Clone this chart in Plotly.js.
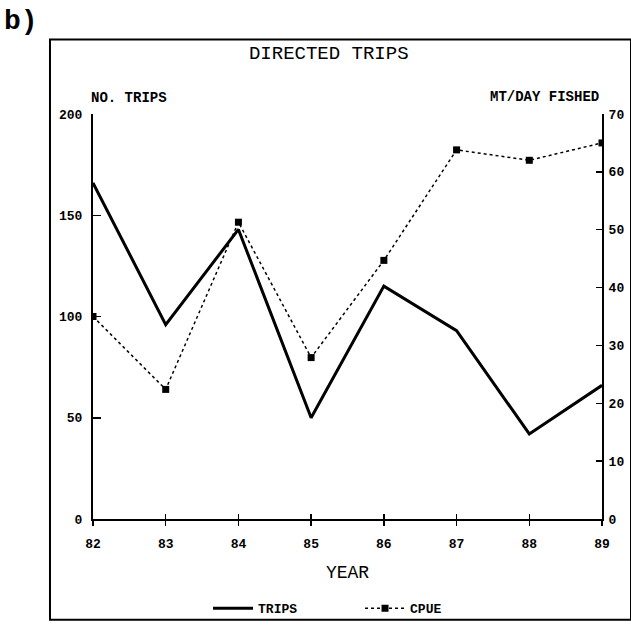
<!DOCTYPE html>
<html>
<head>
<meta charset="utf-8">
<script src="https://cdn.plot.ly/plotly-3.0.1.min.js"></script>
<style>html,body{margin:0;padding:0;background:#fff;}#chart{width:631px;height:635px;}</style>
</head>
<body>
<div id="chart"></div>
<script>
// Data
const years = [82, 83, 84, 85, 86, 87, 88, 89];
const yearLabels = ['82', '83', '84', '85', '86', '87', '88', '89'];
const trips = [166, 96, 143, 50, 115, 93, 42, 66];
const cpue = [35, 22.4, 51.3, 27.9, 44.7, 63.8, 62, 65];
const tripTicks = [0, 50, 100, 150, 200];
const cpueTicks = [0, 10, 20, 30, 40, 50, 60, 70];

const MONO = 'Liberation Mono, DejaVu Sans Mono, monospace';
const tickFont = {family: MONO, size: 13, color: '#000', weight: 'bold'};

const traces = [
  {
    x: years, y: trips, name: 'TRIPS', type: 'scatter', mode: 'lines',
    line: {color: '#000', width: 3}, xaxis: 'x', yaxis: 'y'
  },
  {
    x: years, y: cpue, name: 'CPUE', type: 'scatter', mode: 'lines+markers',
    line: {color: '#000', width: 1.5, dash: 'dot'},
    marker: {symbol: 'square', size: 7, color: '#000'},
    xaxis: 'x', yaxis: 'y2'
  },
  {
    // carrier for the upward half of the crossing x ticks (draws nothing)
    x: years, y: trips, type: 'scatter', mode: 'none', showlegend: false,
    hoverinfo: 'skip', xaxis: 'x2', yaxis: 'y'
  }
];

const layout = {
  width: 631, height: 635,
  margin: {l: 93, r: 29, t: 114, b: 108},
  paper_bgcolor: '#fff', plot_bgcolor: '#fff',
  showlegend: true,
  title: {
    text: 'DIRECTED TRIPS', x: 0.521, xanchor: 'center',
    y: 0.918, yanchor: 'middle',
    font: {family: MONO, size: 19, color: '#000'}
  },
  xaxis: {
    range: [82, 89], tickvals: years, ticktext: yearLabels,
    ticks: 'outside', ticklen: 5, tickwidth: 1.5, tickcolor: '#000',
    showline: true, linewidth: 2, linecolor: '#000',
    showgrid: false, zeroline: false, tickfont: tickFont,
    ticklabelstandoff: 6,
    title: {text: 'YEAR', font: {family: MONO, size: 18, color: '#000'}, standoff: 15}
  },
  xaxis2: {
    range: [82, 89], tickvals: years, overlaying: 'x', anchor: 'y', side: 'bottom',
    ticks: 'inside', ticklen: 5, tickwidth: 1.5, tickcolor: '#000',
    showticklabels: false, showline: false, showgrid: false, zeroline: false
  },
  yaxis: {
    range: [0, 200], tickvals: tripTicks,
    ticks: 'inside', ticklen: 8, tickwidth: 1.5, tickcolor: '#000',
    showline: true, linewidth: 2, linecolor: '#000',
    showgrid: false, zeroline: false, tickfont: tickFont,
    ticklabelstandoff: 6
  },
  yaxis2: {
    range: [0, 70], tickvals: cpueTicks, overlaying: 'y', side: 'right', anchor: 'x',
    ticks: 'inside', ticklen: 6, tickwidth: 1.5, tickcolor: '#000',
    showline: true, linewidth: 2, linecolor: '#000',
    showgrid: false, zeroline: false, tickfont: tickFont,
    ticklabelstandoff: 2
  },
  legend: {
    orientation: 'h', x: 0.226, xanchor: 'left', y: -0.2203, yanchor: 'middle',
    entrywidth: 97, itemwidth: 40,
    font: {family: MONO, size: 13, color: '#000', weight: 'bold'},
    bgcolor: 'rgba(0,0,0,0)'
  },
  annotations: [
    {text: 'b)', xref: 'paper', yref: 'paper', x: -0.179, y: 1.2276, xanchor: 'left', yanchor: 'middle',
     showarrow: false, font: {family: MONO, size: 28, color: '#000', weight: 'bold'}},
    {text: 'NO. TRIPS', xref: 'paper', yref: 'paper', x: -0.008, y: 1.0387, xanchor: 'left', yanchor: 'middle',
     showarrow: false, font: {family: MONO, size: 14, color: '#000', weight: 'bold'}},
    {text: 'MT/DAY FISHED', xref: 'paper', yref: 'paper', x: 0.998, y: 1.041, xanchor: 'right', yanchor: 'middle',
     showarrow: false, font: {family: MONO, size: 14, color: '#000', weight: 'bold'}}
  ],
  shapes: [
    {type: 'rect', xref: 'paper', yref: 'paper', x0: -0.0845, x1: 1.057, y0: -0.249, y1: 1.184,
     line: {color: '#000', width: 2}, fillcolor: 'rgba(0,0,0,0)', layer: 'above'}
  ]
};

Plotly.newPlot('chart', traces, layout, {displayModeBar: false, staticPlot: true});
</script>
</body>
</html>
